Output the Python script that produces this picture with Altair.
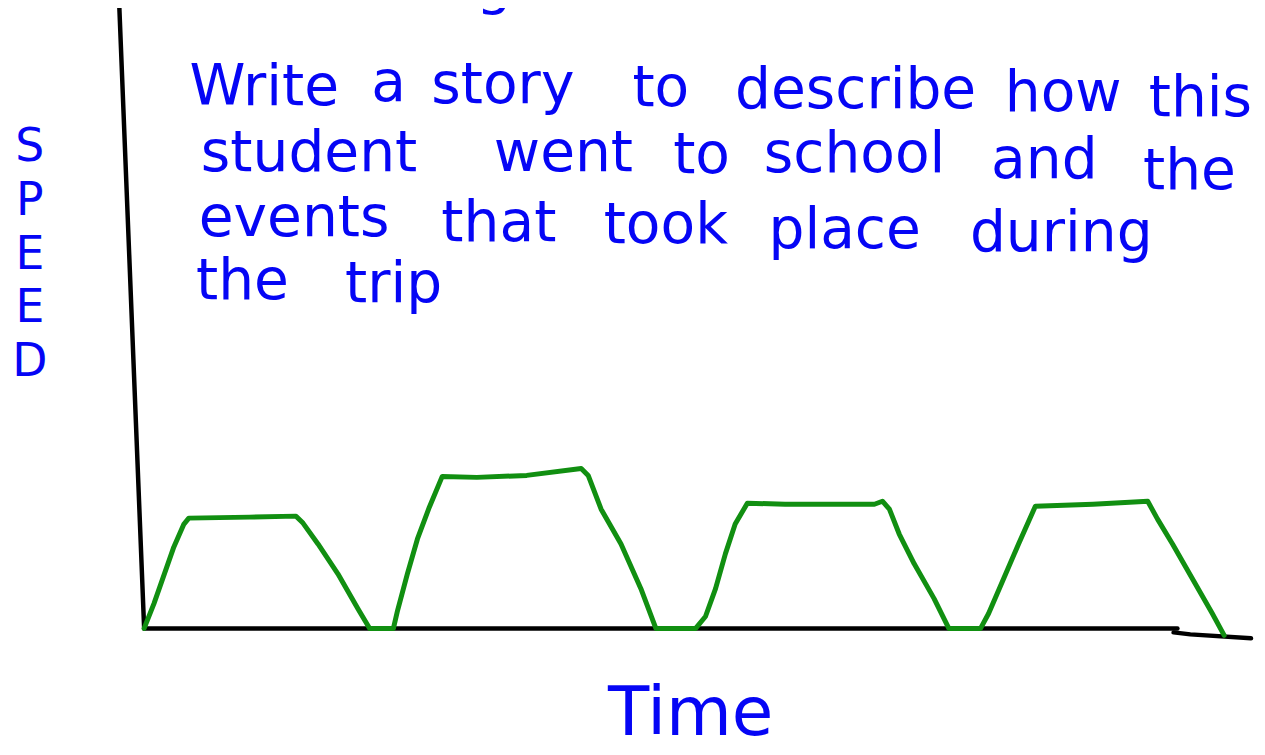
import altair as alt
import pandas as pd

# ---- data (time in minutes, speed in km/h) ----
trip_time = [0.0, 0.38, 1.15, 1.54, 1.73, 4.08, 5.88, 6.15, 6.73, 7.5, 8.27, 8.73,
             9.65, 9.81, 10.19, 10.58, 11.04, 11.54, 12.88, 14.81, 16.92, 17.19,
             17.69, 18.46, 19.23, 19.81, 21.35, 21.73, 22.12, 22.5, 22.88, 23.35,
             24.81, 28.27, 28.58, 28.85, 29.23, 29.81, 30.58, 31.15, 32.38, 32.69,
             33.27, 33.85, 34.5, 36.73, 38.85, 39.23, 39.81, 40.58, 41.35, 41.81]
trip_speed = [0.0, 2.5, 8.2, 10.5, 11.1, 11.2, 11.3, 10.6, 8.5, 5.5, 2.0, 0.0,
              0.0, 1.8, 5.5, 9.0, 12.2, 15.3, 15.2, 15.4, 16.1, 15.4,
              12.0, 8.5, 4.0, 0.0, 0.0, 1.2, 4.0, 7.5, 10.5, 12.6,
              12.5, 12.5, 12.8, 12.0, 9.5, 6.5, 3.0, 0.0, 0.0, 1.5,
              5.0, 8.5, 12.3, 12.5, 12.8, 11.0, 8.5, 5.0, 1.5, -0.7]

axis_seg = ["y", "y", "x", "x", "hook", "hook", "hook"]
axis_time = [-0.96, 0.0, 0.0, 40.0, 39.85, 40.5, 42.85]
axis_speed = [62.5, 0.0, 0.0, 0.0, -0.4, -0.6, -1.0]

story_words = [
    ["Write", "a", "story", "to", "describe", "how", "this"],
    ["student", "went", "to", "school", "and", "the"],
    ["events", "that", "took", "place", "during"],
    ["the", "trip"],
]
y_label = ["S", "P", "E", "E", "D"]
x_label = "Time"
cut_title = "g"

# ---- layout of the handwritten words (page pixels: word centre, baseline) ----
word_center = [
    [266, 391, 506, 665, 861, 1070, 1208],
    [311, 567, 706, 860, 1051, 1197],
    [296, 502, 670, 850, 1068],
    [244, 396],
]
word_base = [
    [103, 99, 101, 104, 106, 109, 114],
    [170, 170, 172, 171, 177, 188],
    [235, 240, 242, 247, 250],
    [298, 301],
]
MARGIN = 8

BLUE = "#0505f5"
GREEN = "#118f11"
FONT = "DejaVu Sans"

trip = pd.DataFrame({"t": trip_time, "v": trip_speed, "i": range(len(trip_time))})
axes_df = pd.DataFrame({"t": axis_time, "v": axis_speed, "seg": axis_seg,
                        "i": range(len(axis_time))})

xs = alt.Scale(domain=[-5.27, 43.08], nice=False, zero=False)
ys = alt.Scale(domain=[-12.5, 62.2], nice=False, zero=False)

axes_layer = alt.Chart(axes_df).mark_line(
    color="black", strokeWidth=4.5, strokeCap="round", strokeJoin="round"
).encode(
    x=alt.X("t:Q", scale=xs, axis=None),
    y=alt.Y("v:Q", scale=ys, axis=None),
    detail="seg:N",
    order="i:Q",
)

trip_layer = alt.Chart(trip).mark_line(
    color=GREEN, strokeWidth=5, strokeCap="round", strokeJoin="round"
).encode(
    x=alt.X("t:Q", scale=xs, axis=None),
    y=alt.Y("v:Q", scale=ys, axis=None),
    order="i:Q",
)


def label(text, px, py, size, align="center", **kw):
    return alt.Chart(pd.DataFrame({"label": [text]})).mark_text(
        font=FONT, fontSize=size, color=BLUE, align=align, baseline="alphabetic", **kw
    ).encode(x=alt.value(px - MARGIN), y=alt.value(py - MARGIN), text="label:N")


text_layers = []
for words, centers, bases in zip(story_words, word_center, word_base):
    for w, px, py in zip(words, centers, bases):
        text_layers.append(label(w, px, py, 57))

speed_label = alt.Chart(pd.DataFrame({"k": [0]})).mark_text(
    text=y_label, font=FONT, fontSize=46, color=BLUE, align="center",
    baseline="alphabetic", lineHeight=54
).encode(x=alt.value(30 - MARGIN), y=alt.value(160 - MARGIN))

time_label = label(x_label, 695, 737, 68)
title_tail = label(cut_title, 497, 1, 56)

chart = alt.layer(
    axes_layer, trip_layer, *text_layers, speed_label, time_label, title_tail
).properties(
    width=1257, height=747, padding=0, autosize=alt.AutoSizeParams(type="none"),
    background="white"
).configure_view(stroke=None)

chart.save("out.html", embed_options={"renderer": "svg", "actions": False})
